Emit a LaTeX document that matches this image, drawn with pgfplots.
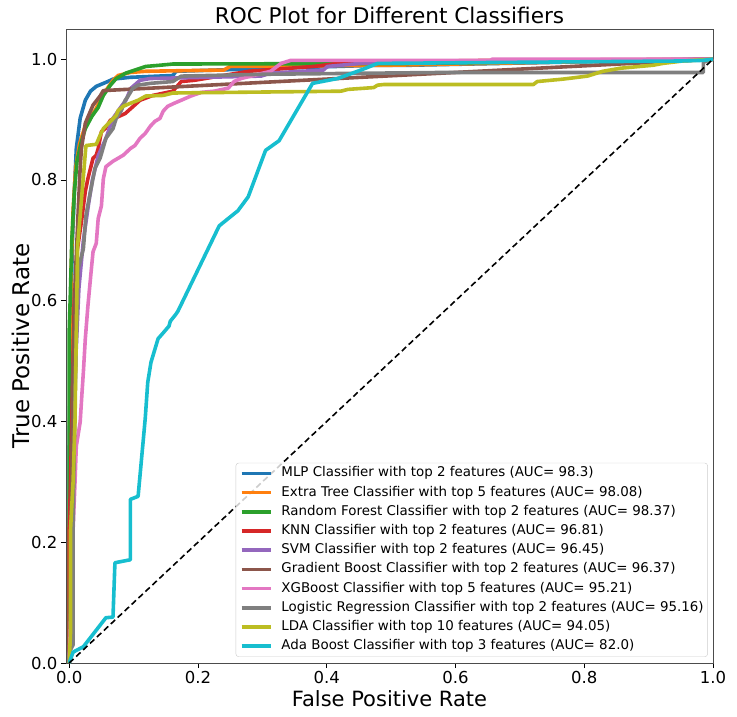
\documentclass[border=0pt]{standalone}
\usepackage{fontspec}
\setmainfont{DejaVu Sans}
\usepackage{pgfplots}
\pgfplotsset{compat=1.18}
\definecolor{cB}{HTML}{1F77B4}
\definecolor{cO}{HTML}{FF7F0E}
\definecolor{cG}{HTML}{2CA02C}
\definecolor{cR}{HTML}{D62728}
\definecolor{cP}{HTML}{9467BD}
\definecolor{cBr}{HTML}{8C564B}
\definecolor{cPk}{HTML}{E377C2}
\definecolor{cGr}{HTML}{7F7F7F}
\definecolor{cOl}{HTML}{BCBD22}
\definecolor{cC}{HTML}{17BECF}
\begin{document}
\begin{tikzpicture}
\useasboundingbox (-66pt,-53pt) rectangle (671pt,663pt);
\begin{axis}[
  at={(0pt,0pt)}, anchor=south west,
  scale only axis, width=647pt, height=634pt,
  xmin=-0.005, xmax=1, ymin=0, ymax=1.05,
  xtick={0,0.2,0.4,0.6,0.8,1}, ytick={0,0.2,0.4,0.6,0.8,1},
  xticklabels={0.0,0.2,0.4,0.6,0.8,1.0},
  yticklabels={0.0,0.2,0.4,0.6,0.8,1.0},
  xtick pos=bottom, ytick pos=left, tick align=outside,
  major tick length=5pt,
  every tick/.style={black, line width=0.9pt},
  axis line style={black!70, line width=0.9pt},
  ticklabel style={font=\fontsize{16.5}{18}\selectfont},
  /pgf/number format/assume math mode=true,
  title={ROC Plot for Different Classifiers},
  title style={font=\fontsize{21.6}{24}\selectfont, at={(axis description cs:0.5,1)}, anchor=base, yshift=-1pt},
  xlabel={False Positive Rate},
  xlabel style={font=\fontsize{21}{24}\selectfont, at={(axis description cs:0.5,-0.068)}, anchor=base},
  ylabel={True Positive Rate},
  ylabel style={font=\fontsize{23}{26}\selectfont, at={(axis description cs:-0.056,0.5)}, anchor=base},
  legend cell align=left,
  legend image code/.code={\draw[#1] (0pt,0pt) -- (29pt,0pt);},
  legend style={at={(axis description cs:0.992,0.0095)}, anchor=south east,
    draw=black!20, fill=white, fill opacity=0.8, text opacity=1, rounded corners=3pt,
    font=\fontsize{13.4}{15}\selectfont, row sep=6.2pt, inner xsep=4pt, inner ysep=4pt,
    nodes={inner sep=0pt, text height=10pt, text depth=3pt},
    /tikz/every odd column/.append style={column sep=9pt}},
  every axis plot/.append style={line width=3.6pt, line join=round},
]
\addplot[cB] coordinates {(0,0)(0,0.35)(0.003,0.6)(0.005,0.7)(0.008,0.78)(0.011,0.852)(0.017,0.902)(0.025,0.932)(0.033,0.947)(0.042,0.955)(0.06,0.963)(0.068,0.967)(0.095,0.97)(0.161,0.973)(0.166,0.98)(0.479,0.99)(0.53,0.99)(1,1)};
\addlegendentry{MLP Classifier with top 2 features (AUC= 98.3)}
\addplot[cO] coordinates {(0,0)(0.001,0.45)(0.003,0.65)(0.006,0.75)(0.01,0.82)(0.016,0.86)(0.025,0.89)(0.04,0.915)(0.055,0.945)(0.068,0.965)(0.076,0.973)(0.095,0.978)(0.119,0.98)(0.24,0.982)(0.25,0.988)(0.5,0.99)(1,1)};
\addlegendentry{Extra Tree Classifier with top 5 features (AUC= 98.08)}
\addplot[cG] coordinates {(0,0)(0,0.55)(0.002,0.62)(0.004,0.7)(0.008,0.78)(0.012,0.83)(0.018,0.86)(0.025,0.885)(0.035,0.905)(0.045,0.92)(0.053,0.94)(0.064,0.957)(0.073,0.968)(0.088,0.977)(0.102,0.982)(0.119,0.988)(0.141,0.99)(0.161,0.992)(0.55,0.993)(1,1)};
\addlegendentry{Random Forest Classifier with top 2 features (AUC= 98.37)}
\addplot[cR] coordinates {(0,0)(0,0.22)(0.002,0.3)(0.005,0.45)(0.008,0.6)(0.012,0.68)(0.019,0.731)(0.025,0.781)(0.029,0.802)(0.037,0.836)(0.042,0.841)(0.045,0.852)(0.05,0.88)(0.056,0.885)(0.064,0.899)(0.087,0.91)(0.11,0.932)(0.13,0.94)(0.161,0.947)(0.174,0.963)(0.194,0.965)(0.279,0.98)(0.38,0.988)(0.433,0.995)(0.654,0.998)(1,1)};
\addlegendentry{KNN Classifier with top 2 features (AUC= 96.81)}
\addplot[cP] coordinates {(0,0)(0.004,0.15)(0.007,0.35)(0.01,0.5)(0.015,0.62)(0.022,0.7)(0.03,0.76)(0.036,0.8)(0.045,0.84)(0.057,0.869)(0.068,0.902)(0.079,0.919)(0.088,0.932)(0.096,0.952)(0.11,0.965)(0.126,0.968)(0.298,0.972)(0.313,0.977)(0.395,0.982)(0.401,0.988)(0.453,0.993)(1,1)};
\addlegendentry{SVM Classifier with top 2 features (AUC= 96.45)}
\addplot[cBr] coordinates {(0,0)(0.003,0.25)(0.006,0.5)(0.01,0.65)(0.014,0.75)(0.017,0.82)(0.019,0.852)(0.025,0.894)(0.037,0.924)(0.048,0.939)(0.053,0.948)(1,1)};
\addlegendentry{Gradient Boost Classifier with top 2 features (AUC= 96.37)}
\addplot[cPk] coordinates {(0,0)(0.003,0.1)(0.006,0.22)(0.009,0.3)(0.011,0.359)(0.017,0.399)(0.02,0.45)(0.022,0.482)(0.025,0.537)(0.029,0.591)(0.034,0.648)(0.037,0.681)(0.042,0.695)(0.045,0.736)(0.05,0.757)(0.053,0.802)(0.057,0.822)(0.068,0.831)(0.084,0.841)(0.095,0.852)(0.102,0.857)(0.11,0.869)(0.118,0.877)(0.126,0.889)(0.133,0.897)(0.141,0.902)(0.146,0.914)(0.153,0.922)(0.163,0.927)(0.174,0.932)(0.189,0.939)(0.205,0.945)(0.225,0.947)(0.247,0.952)(0.256,0.963)(0.267,0.968)(0.313,0.98)(0.329,0.993)(0.344,0.998)(0.654,0.998)(0.657,1)(1,1)};
\addlegendentry{XGBoost Classifier with top 5 features (AUC= 95.21)}
\addplot[cGr] coordinates {(0,0)(0.001,0.02)(0.006,0.03)(0.006,0.221)(0.009,0.437)(0.011,0.537)(0.014,0.653)(0.022,0.686)(0.026,0.741)(0.033,0.781)(0.04,0.819)(0.048,0.836)(0.057,0.869)(0.068,0.885)(0.073,0.902)(0.081,0.915)(0.087,0.932)(0.091,0.938)(0.099,0.952)(0.107,0.957)(0.126,0.96)(0.161,0.963)(0.174,0.972)(0.3,0.975)(0.58,0.978)(0.985,0.978)(0.985,0.995)(1,1)};
\addlegendentry{Logistic Regression Classifier with top 2 features (AUC= 95.16)}
\addplot[cOl] coordinates {(0,0)(0.002,0.05)(0.002,0.22)(0.006,0.3)(0.009,0.4)(0.011,0.55)(0.013,0.69)(0.02,0.78)(0.026,0.857)(0.042,0.859)(0.048,0.874)(0.053,0.885)(0.064,0.897)(0.073,0.907)(0.076,0.915)(0.084,0.922)(0.095,0.927)(0.107,0.932)(0.119,0.939)(0.146,0.94)(0.161,0.944)(0.422,0.947)(0.433,0.95)(0.473,0.953)(0.479,0.957)(0.488,0.958)(0.721,0.958)(0.727,0.963)(0.767,0.967)(0.805,0.972)(0.814,0.975)(0.829,0.98)(0.856,0.985)(0.907,0.99)(0.922,0.993)(0.953,0.997)(1,1)};
\addlegendentry{LDA Classifier with top 10 features (AUC= 94.05)}
\addplot[cC] coordinates {(0,0)(0.006,0.018)(0.022,0.027)(0.057,0.075)(0.068,0.076)(0.071,0.166)(0.095,0.171)(0.095,0.271)(0.107,0.276)(0.118,0.404)(0.122,0.465)(0.127,0.498)(0.138,0.537)(0.147,0.548)(0.155,0.558)(0.157,0.566)(0.166,0.578)(0.169,0.583)(0.233,0.724)(0.262,0.749)(0.278,0.772)(0.305,0.849)(0.326,0.865)(0.378,0.96)(0.417,0.968)(0.453,0.982)(0.479,0.993)(0.949,0.997)(0.984,0.998)(1,1)};
\addlegendentry{Ada Boost Classifier with top 3 features (AUC= 82.0)}
\addplot[black, line width=1.6pt, dash pattern=on 6pt off 3.5pt, forget plot] coordinates {(0,0)(1,1)};
\end{axis}
\end{tikzpicture}
\end{document}
